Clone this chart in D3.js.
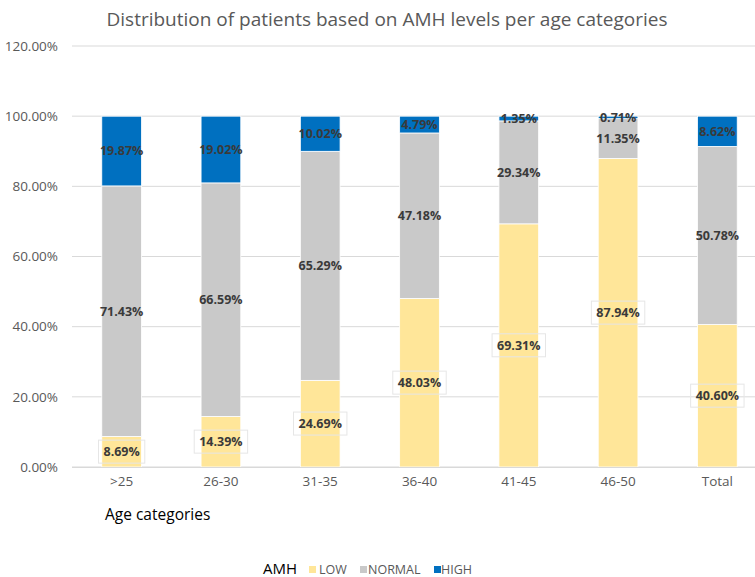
<!DOCTYPE html>
<html><head><meta charset="utf-8">
<script src="https://cdn.jsdelivr.net/npm/d3@7"></script>
<style>body{margin:0;background:#fff;font-family:Calibri,Carlito,"Open Sans","Liberation Sans",sans-serif;}</style>
</head><body><svg id="c" width="755" height="577"></svg>
<script>
const categories = [">25","26-30","31-35","36-40","41-45","46-50","Total"];
const lowValues = [8.69,14.39,24.69,48.03,69.31,87.94,40.60];
const normalValues = [71.43,66.59,65.29,47.18,29.34,11.35,50.78];
const highValues = [19.87,19.02,10.02,4.79,1.35,0.71,8.62];
const yTicks = [0,20,40,60,80,100,120];
const seriesNames = ["LOW","NORMAL","HIGH"];
const colors = {LOW:"#FFE699",NORMAL:"#C9C9C9",HIGH:"#0070C0"};

const svg = d3.select("#c");
const font = "'Open Sans','Liberation Sans',sans-serif";
const x = d3.scaleBand().domain(categories).range([72,767]).paddingInner(0.6).paddingOuter(0.3);
const y = d3.scaleLinear().domain([0,120]).range([467,46]);

const rows = categories.map((c,i)=>({cat:c,LOW:lowValues[i],NORMAL:normalValues[i],HIGH:highValues[i]}));
const stack = d3.stack().keys(seriesNames)(rows);

// gridlines
svg.append("g").selectAll("line").data(yTicks).join("line")
  .attr("x1",72).attr("x2",755).attr("y1",d=>y(d)).attr("y2",d=>y(d))
  .attr("stroke","#d9d9d9").attr("stroke-width",1);

// y labels
const yAxis = d3.axisLeft(y).tickValues(yTicks).tickFormat(d=>d.toFixed(2)+"%").tickSize(0).tickPadding(0);
const gy = svg.append("g").attr("transform","translate(58,0)").call(yAxis);
gy.select(".domain").remove();
gy.selectAll("text").attr("font-family",font).attr("font-size",13.5).attr("fill","#595959");

// bars
svg.append("g").selectAll("g").data(stack).join("g").attr("fill",d=>colors[d.key])
  .selectAll("rect").data(d=>d).join("rect")
  .attr("x",d=>x(d.data.cat)).attr("width",x.bandwidth())
  .attr("y",d=>y(d[1])).attr("height",d=>y(d[0])-y(d[1]))
  .attr("stroke","#fff").attr("stroke-width",0.8);

// x axis
const xAxis = d3.axisBottom(x).tickSize(0).tickPadding(0);
const gx = svg.append("g").attr("transform","translate(0,467)").call(xAxis);
gx.select(".domain").attr("d","M72,0.5H755").attr("stroke","#d9d9d9");
gx.selectAll("text").attr("y",9).attr("font-family",font).attr("font-size",13.5).attr("fill","#595959");

// labels
const lg = svg.append("g");
stack.forEach(s=>{
  s.forEach(d=>{
    const cx = x(d.data.cat)+x.bandwidth()/2;
    const cy = (y(d[0])+y(d[1]))/2;
    const txt = d.data[s.key].toFixed(2)+"%";
    const t = lg.append("text").attr("x",cx).attr("y",cy).attr("dy","0.35em")
      .attr("text-anchor","middle").attr("font-family",font).attr("font-weight","bold")
      .attr("font-size",12.5).attr("fill","#3a3a3a").text(txt);
    if(s.key==="LOW"){
      const b = t.node().getBBox();
      lg.insert("rect","text").attr("x",b.x-5).attr("y",b.y-3).attr("width",b.width+10).attr("height",b.height+6)
        .attr("fill","none").attr("stroke","#e6e6e6").attr("stroke-width",1);
    }
  });
});

// title
svg.append("text").attr("x",387).attr("y",26).attr("text-anchor","middle")
  .attr("font-family",font).attr("font-size",19).attr("fill","#595959")
  .text("Distribution of patients based on AMH levels per age categories");

// x axis title
svg.append("text").attr("x",105).attr("y",520).attr("font-family",font).attr("font-size",15.5).attr("fill","#000")
  .text("Age categories");

// legend
const leg = svg.append("g");
leg.append("text").attr("x",263).attr("y",574).attr("font-family",font).attr("font-size",15).attr("fill","#000").text("AMH");
const legPos = [{sx:309,tx:319},{sx:360,tx:368},{sx:434,tx:441}];
seriesNames.forEach((n,i)=>{
  leg.append("rect").attr("x",legPos[i].sx).attr("y",566).attr("width",7).attr("height",7).attr("fill",colors[n]);
  leg.append("text").attr("x",legPos[i].tx).attr("y",574).attr("font-family",font).attr("font-size",12.5).attr("fill","#595959").text(n);
});
</script></body></html>
